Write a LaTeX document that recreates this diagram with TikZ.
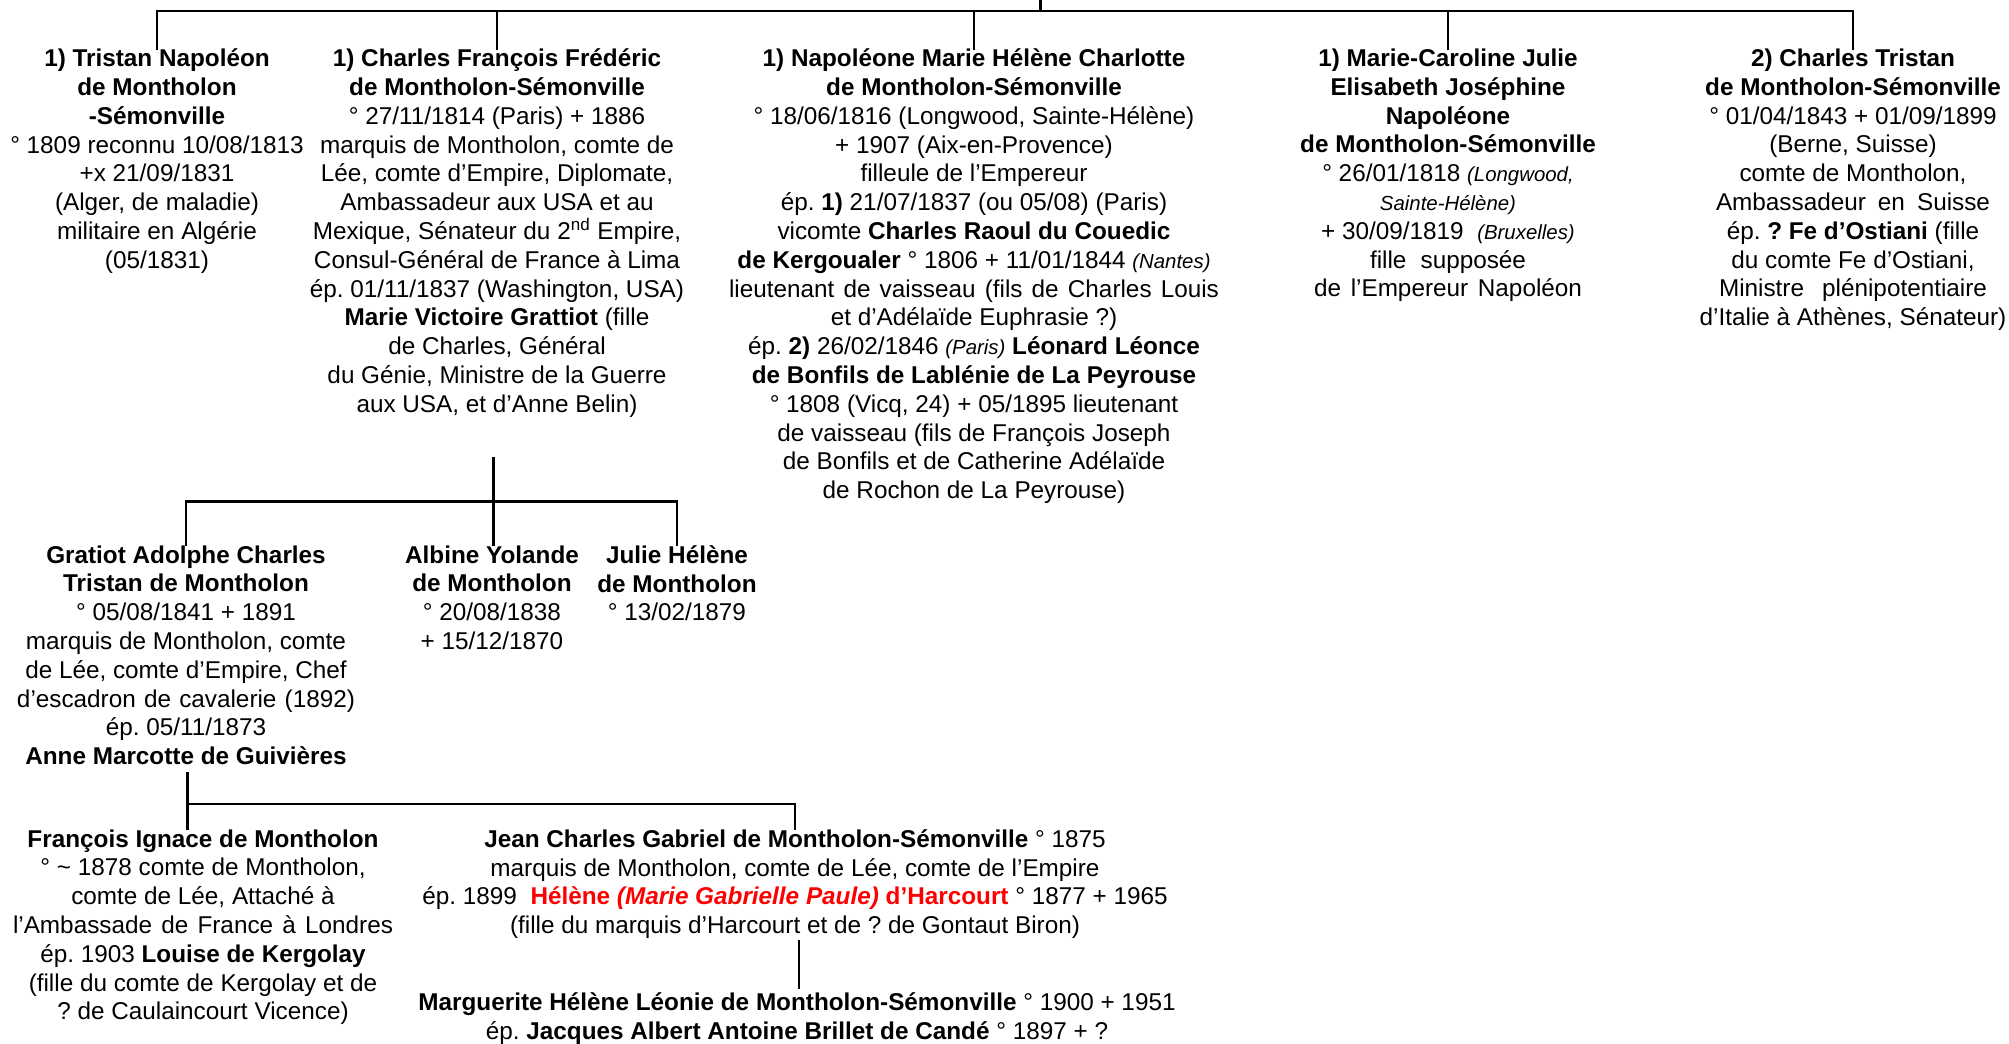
\documentclass[tikz,border=0pt]{standalone}
\usepackage{fontspec}
\setmainfont{Liberation Sans}
\frenchspacing
\definecolor{hred}{RGB}{255,0,0}
\newcommand{\smit}[1]{{\fontsize{10.2}{14.4}\selectfont\itshape #1}}
\newcommand{\jline}[2]{\makebox[#1][s]{#2}}
\begin{document}
\begin{tikzpicture}[x=0.5pt,y=-0.5pt,
  person/.style={align=center,inner sep=0pt,anchor=north,
    font=\fontsize{12.15}{14.4}\selectfont\frenchspacing,execute at begin node=\strut},
  link/.style={line width=1.2pt,line cap=rect}]
\useasboundingbox (0,0) rectangle (2009,1044);
\fill[white] (0,0) rectangle (2009,1044);

% ---- generation 1
\node[person] (t1) at (157,48.5) {\textbf{1) Tristan Napoléon}\\ \textbf{de Montholon}\\ \textbf{-Sémonville}\\ ° 1809 reconnu 10/08/1813\\ +x 21/09/1831\\ (Alger, de maladie)\\ militaire en Algérie\\ (05/1831)};
\node[person] (t2) at (497,48.5) {\textbf{1) Charles François Frédéric}\\ \textbf{de Montholon-Sémonville}\\ ° 27/11/1814 (Paris) + 1886\\ marquis de Montholon, comte de\\ Lée, comte d’Empire, Diplomate,\\ Ambassadeur aux USA et au\\ Mexique, Sénateur du 2\textsuperscript{nd} Empire,\\ Consul-Général de France à Lima\\ ép. 01/11/1837 (Washington, USA)\\ \textbf{Marie Victoire Grattiot} (fille\\ de Charles, Général\\ du Génie, Ministre de la Guerre\\ aux USA, et d’Anne Belin)};
\node[person] (t3) at (974,48.5) {\textbf{1) Napoléone Marie Hélène Charlotte}\\ \textbf{de Montholon-Sémonville}\\ ° 18/06/1816 (Longwood, Sainte-Hélène)\\ + 1907 (Aix-en-Provence)\\ filleule de l’Empereur\\ ép. \textbf{1)} 21/07/1837 (ou 05/08) (Paris)\\ vicomte \textbf{Charles Raoul du Couedic}\\ \textbf{de Kergoualer} ° 1806 + 11/01/1844 \smit{(Nantes)}\\ \jline{245pt}{lieutenant de vaisseau (fils de Charles Louis}\\ et d’Adélaïde Euphrasie ?)\\ ép. \textbf{2)} 26/02/1846 \smit{(Paris)} \textbf{Léonard Léonce}\\ \textbf{de Bonfils de Lablénie de La Peyrouse}\\ ° 1808 (Vicq, 24) + 05/1895 lieutenant\\ de vaisseau (fils de François Joseph\\ de Bonfils et de Catherine Adélaïde\\ de Rochon de La Peyrouse)};
\node[person] (t4) at (1448,48.5) {\textbf{1) Marie-Caroline Julie}\\ \textbf{Elisabeth Joséphine}\\ \textbf{Napoléone}\\ \textbf{de Montholon-Sémonville}\\ ° 26/01/1818 \smit{(Longwood,}\\ \smit{Sainte-Hélène)}\\ + 30/09/1819 \ \smit{(Bruxelles)}\\ \jline{78pt}{fille supposée}\\ \jline{134pt}{de l’Empereur Napoléon}};
\node[person] (t5) at (1853,48.5) {\textbf{2) Charles Tristan}\\ \textbf{de Montholon-Sémonville}\\ ° 01/04/1843 + 01/09/1899\\ (Berne, Suisse)\\ comte de Montholon,\\ \jline{137pt}{Ambassadeur en Suisse}\\ ép. \textbf{? Fe d’Ostiani} (fille\\ du comte Fe d’Ostiani,\\ \jline{134pt}{Ministre plénipotentiaire}\\ d’Italie à Athènes, Sénateur)};

\coordinate (root) at (1040.5,0);
\coordinate (bar) at (0,11);
\draw[link] (root) -- (root |- bar);
\draw[link] (t1.north) |- (t5.north |- bar) -- (t5.north);
\foreach \n in {t2,t3,t4} \draw[link] (\n.north) -- (\n.north |- bar);

% ---- generation 2
\node[person] (g2) at (186,545) {\textbf{Gratiot Adolphe Charles}\\ \textbf{Tristan de Montholon}\\ ° 05/08/1841 + 1891\\ marquis de Montholon, comte\\ de Lée, comte d’Empire, Chef\\ \jline{169pt}{d’escadron de cavalerie (1892)}\\ ép. 05/11/1873\\ \textbf{Anne Marcotte de Guivières}};
\node[person] (a2) at (492,545) {\textbf{Albine Yolande}\\ \textbf{de Montholon}\\ ° 20/08/1838\\ + 15/12/1870};
\node[person] (j2) at (677,545) {\textbf{Julie Hélène}\\ \textbf{de Montholon}\\ ° 13/02/1879};

\coordinate (c2) at (493.5,458);
\coordinate (bar2) at (0,501.5);
\draw[link] (c2) -- (c2 |- a2.north);
\draw[link] (g2.north) |- (j2.north |- bar2) -- (j2.north);

% ---- generation 3
\node[person] (f3) at (203,829) {\textbf{François Ignace de Montholon}\\ ° \textasciitilde{} 1878 comte de Montholon,\\ comte de Lée, Attaché à\\ \jline{190pt}{l’Ambassade de France à Londres}\\ ép. 1903 \textbf{Louise de Kergolay}\\ (fille du comte de Kergolay et de\\ ? de Caulaincourt Vicence)};
\node[person] (jc) at (795,829) {\textbf{Jean Charles Gabriel de Montholon-Sémonville} ° 1875\\ marquis de Montholon, comte de Lée, comte de l’Empire\\ ép. 1899 \ \textcolor{hred}{\textbf{Hélène \textit{(Marie Gabrielle Paule)} d’Harcourt}} ° 1877 + 1965\\ (fille du marquis d’Harcourt et de ? de Gontaut Biron)};

\coordinate (c3) at (187.5,773);
\coordinate (bar3) at (0,804);
\draw[link] (c3) -- (c3 |- f3.north);
\draw[link] (c3 |- bar3) -| (jc.north);

% ---- generation 4
\node[person] (m4) at (797,992) {\textbf{Marguerite Hélène Léonie de Montholon-Sémonville} ° 1900 + 1951\\ ép. \textbf{Jacques Albert Antoine Brillet de Candé} ° 1897 + ?};
\coordinate (c4) at (799,941.5);
\draw[link,shorten >=2pt] (c4) -- (c4 |- m4.north);
\end{tikzpicture}
\end{document}
